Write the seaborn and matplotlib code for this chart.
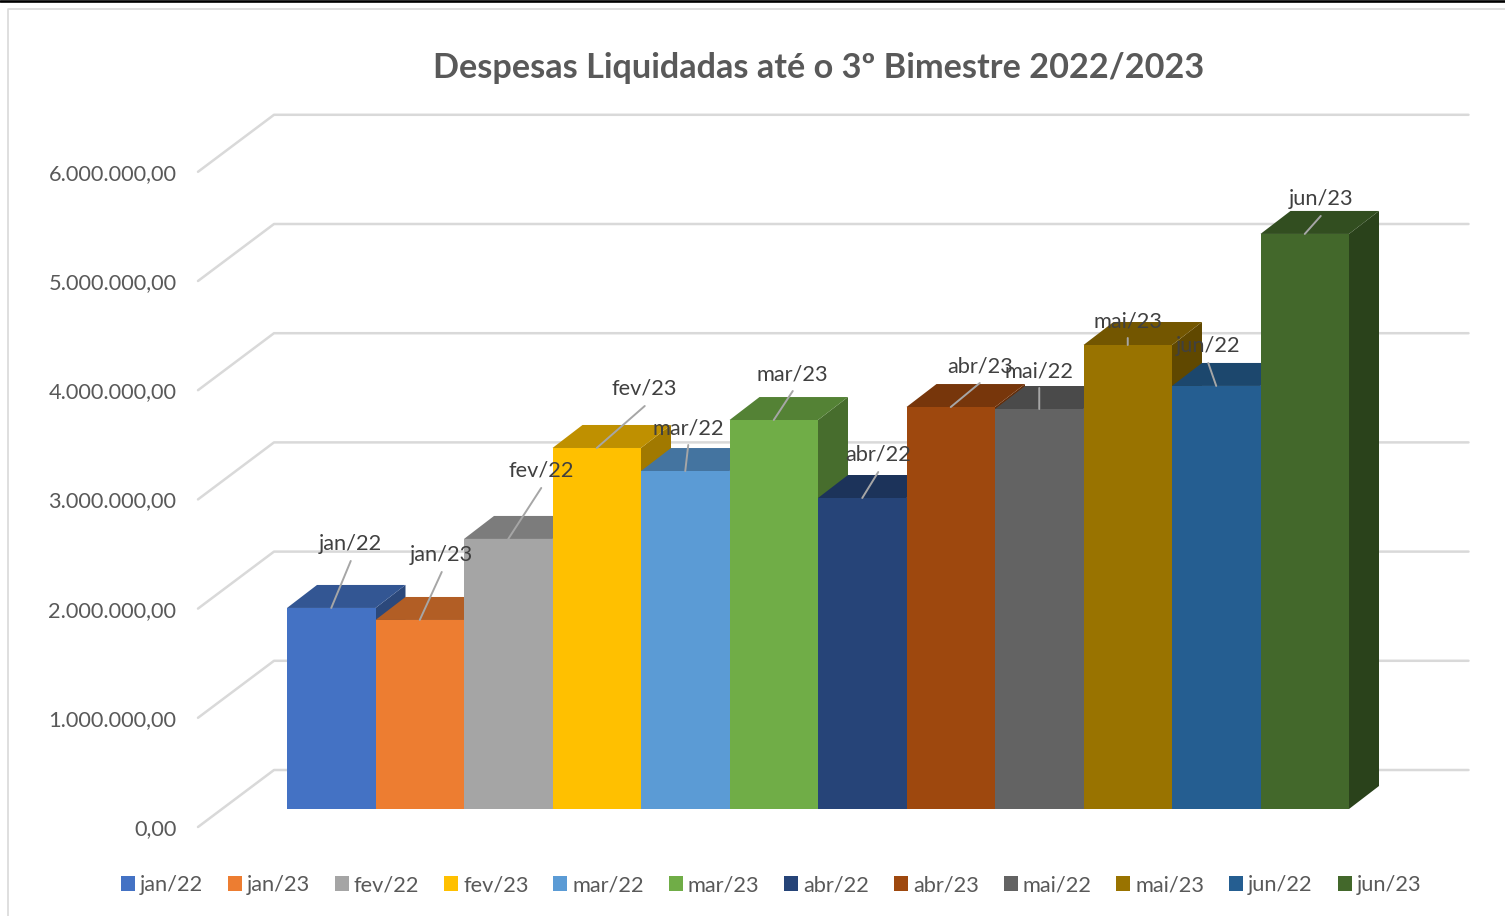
import matplotlib
matplotlib.use("Agg")
import matplotlib.pyplot as plt
from matplotlib.colors import to_rgb
from matplotlib.lines import Line2D
from matplotlib.patches import Patch, Polygon
from matplotlib.transforms import IdentityTransform
import pandas as pd
import seaborn as sns

# ---- data ----
months = ["jan/22", "jan/23", "fev/22", "fev/23", "mar/22", "mar/23",
          "abr/22", "abr/23", "mai/22", "mai/23", "jun/22", "jun/23"]
values = [1841000, 1731000, 2473000, 3306000, 3095000, 3562000,
          2848000, 3681000, 3663000, 4249000, 3874000, 5266000]
tick_values = [0, 1000000, 2000000, 3000000, 4000000, 5000000, 6000000]
tick_labels = ["0,00", "1.000.000,00", "2.000.000,00", "3.000.000,00",
               "4.000.000,00", "5.000.000,00", "6.000.000,00"]
title = "Despesas Liquidadas até o 3º Bimestre 2022/2023"

# ---- styles ----
colors = ["#4472C4", "#ED7D31", "#A5A5A5", "#FFC000", "#5B9BD5", "#70AD47",
          "#264478", "#9E480E", "#636363", "#997300", "#255E91", "#43682B"]
leader_offsets = [(19.5, 47), (22, 48), (33, 51), (48, 42), (3, 26), (19, 29),
                  (16, 26), (29, 24), (0, 21), (0, 7), (-8, 23), (16, 18)]
W, H = 1505, 916
DX, DY = 30, 23
GRID = "#D9D9D9"
FS = 15.7

sns.set_theme(style="white")
plt.rcParams["font.family"] = ["Lato", "DejaVu Sans"]

fig = plt.figure(figsize=(W / 100, H / 100), dpi=100, facecolor="white")
scale = 655.2
ax = fig.add_axes([287 / W, (H - 809) / H, 1062 / W, scale / H])
df = pd.DataFrame({"mes": months, "valor": values})
sns.barplot(data=df, x="mes", y="valor", hue="mes", palette=colors, order=months,
            hue_order=months, width=1, saturation=1, dodge=False, legend=False, ax=ax,
            zorder=5, linewidth=0, edgecolor="none")
ax.set_xlim(-0.5, len(months) - 0.5)
ax.set_ylim(0, tick_values[-1])
ax.axis("off")
fig.canvas.draw()

ident = IdentityTransform()
to_px = ax.transData.transform

# back wall and side wall gridlines
for v in tick_values:
    _, y = to_px((0, v))
    y_back = y + 39
    ax.add_line(Line2D([198, 274, 1468.5], [y_back - 57, y_back, y_back], transform=ident,
                       color=GRID, lw=1.8, zorder=1, clip_on=False))

# bars' side faces first, then top faces from the lowest bar up
bars = sorted((c[0] for c in ax.containers), key=lambda b: b.get_height())
for n, bar in enumerate(bars):
    rgb = to_rgb(bar.get_facecolor()[:3])
    x0, x1 = bar.get_x(), bar.get_x() + bar.get_width()
    h = bar.get_height()
    (ax_px, ay_px), (bx_px, by_px) = to_px((x0, h)), to_px((x1, h))
    _, base = to_px((x1, 0))
    side = Polygon([(bx_px, base), (bx_px, by_px), (bx_px + DX, by_px + DY), (bx_px + DX, base + DY)],
                   transform=ident, facecolor=[c * 0.63 for c in rgb], edgecolor="none",
                   zorder=2.5)
    top = Polygon([(ax_px, ay_px), (bx_px, by_px), (bx_px + DX, by_px + DY), (ax_px + DX, ay_px + DY)],
                  transform=ident, facecolor=[c * 0.75 for c in rgb], edgecolor="none",
                  zorder=3 + n * 0.01)
    ax.add_patch(side)
    ax.add_patch(top)
    top.set_clip_on(False)
    side.set_clip_on(False)

# data labels with leader lines
for i, (lab, val, (ox, oy)) in enumerate(zip(months, values, leader_offsets)):
    ax.annotate("", xy=(i, val), xycoords="data", xytext=(ox, oy), textcoords="offset pixels",
                arrowprops=dict(arrowstyle="-", color="#A6A6A6", lw=1.4, shrinkA=0, shrinkB=0),
                annotation_clip=False, zorder=7)
    ax.annotate(lab, xy=(i, val), xycoords="data", xytext=(ox, oy + 17), textcoords="offset pixels",
                ha="center", va="center", fontsize=FS, color="#404040",
                annotation_clip=False, zorder=8)

# front value axis
ax_v = fig.add_axes([198 / W, (H - 827) / H, 20 / W, scale / H], facecolor="none")
ax_v.set_ylim(0, tick_values[-1])
ax_v.set_yticks(tick_values)
ax_v.set_yticklabels(tick_labels, fontsize=FS, color="#595959")
ax_v.set_xticks([])
ax_v.tick_params(axis="y", length=0, pad=21.5 * 0.72)
sns.despine(ax=ax_v, left=True, bottom=True)

fig.text(818.5 / W, 1 - 67.5 / H, title, ha="center", va="center", fontsize=24.7,
         fontweight="bold", color="#595959")

# legend
handles = [Patch(facecolor=c, edgecolor="none") for c in colors]
fs_px = FS / 0.72
fig.legend(handles, months, ncol=12, loc="center", bbox_to_anchor=(771 / W, 1 - 885 / H),
           frameon=False, fontsize=FS, labelcolor="#595959", handlelength=14 / fs_px,
           handleheight=14 / fs_px, handletextpad=5 / fs_px, columnspacing=24.8 / fs_px,
           borderpad=0, borderaxespad=0)

# chart frame and page rule
fig.add_artist(Line2D([7.5, 7.5, W], [0, H - 9, H - 9], transform=ident, color=GRID, lw=1.2))
fig.add_artist(Line2D([0, W], [H - 1.3, H - 1.3], transform=ident, color="black", lw=1.9))

fig.savefig("out.png", dpi=100, facecolor="white")
